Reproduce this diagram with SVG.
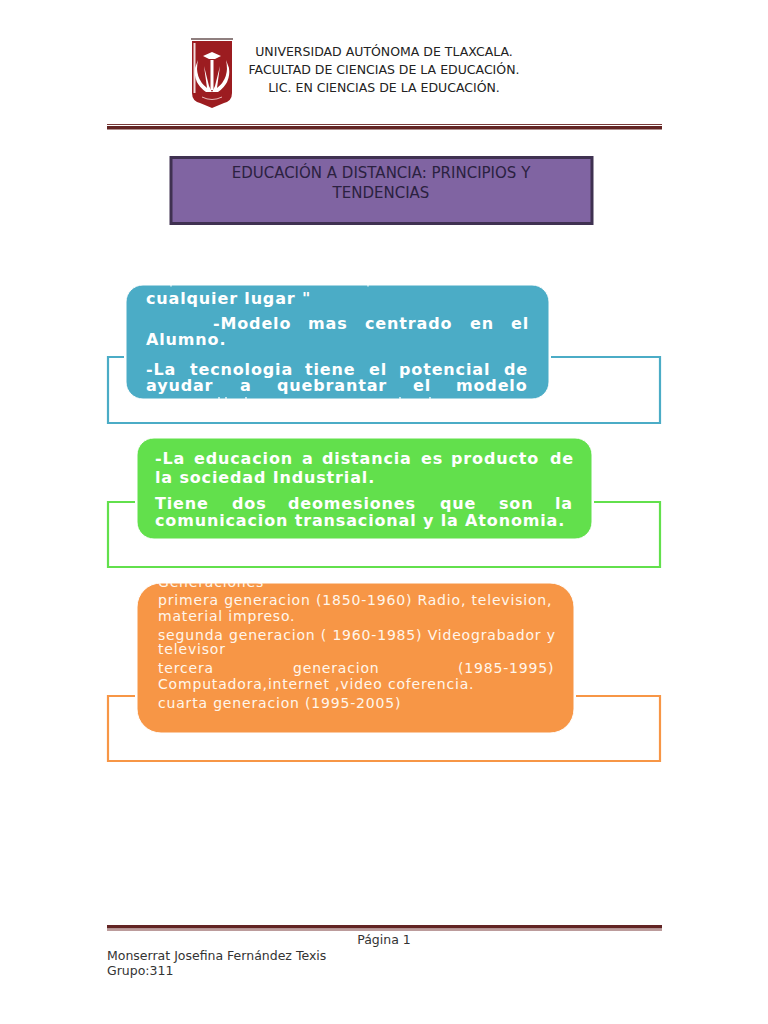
<svg xmlns="http://www.w3.org/2000/svg" width="768" height="1024" viewBox="0 0 768 1024">
<style>
text{font-family:"DejaVu Sans",Verdana,sans-serif}
.h{font-size:12.5px;fill:#222;text-anchor:middle}
.t{font-size:15px;fill:#2b2140;text-anchor:middle}
.b{font-size:16px;font-weight:700;fill:#fff;letter-spacing:.85px}
.o{font-size:14px;fill:#fff6ec;letter-spacing:.82px}
.f{font-size:12.5px;fill:#333}
.c{fill:none;stroke-width:2.2}
.n{stroke:#fff;stroke-width:1}
</style>
<defs>
<clipPath id="cb"><rect x="126" y="285" width="423" height="114" rx="17"/></clipPath>
<clipPath id="co"><rect x="137" y="583" width="437" height="150" rx="24"/></clipPath>
</defs>
<rect width="768" height="1024" fill="#fff"/>
<g id="shield">
<path d="M192 41h40v52q0 8-8 10l-12 5-12-5q-8-2-8-10z" fill="#9c1c20"/>
<rect x="191" y="38" width="42" height="2" fill="#8f7f7f"/>
<rect x="193.500" y="43" width="2" height="50" fill="#f2dcdc"/>
<path d="M198 60q-4 18 9 28l-3-22 5 20 3 6 3-6 5-20-3 22q13-10 9-28l3 8q2 15-11 24h-12q-13-9-11-24z" fill="#fff"/>
<path d="M203 56l9-4 9 4-6 3h-6z" fill="#fff"/>
<rect x="210.500" y="60" width="3" height="30" fill="#fff"/>
<path d="M202 97q10 5 20 0" fill="none" stroke="#e8b8b8"/>
</g>
<g id="header">
<text class="h" x="384" y="56">UNIVERSIDAD AUTÓNOMA DE TLAXCALA.</text>
<text class="h" x="384" y="74">FACULTAD DE CIENCIAS DE LA EDUCACIÓN.</text>
<text class="h" x="384" y="92">LIC. EN CIENCIAS DE LA EDUCACIÓN.</text>
</g>
<g id="rule-top"><rect x="107" y="124" width="555" height="1" fill="#7a3b3a"/><rect x="107" y="126" width="555" height="3.5" fill="#622423"/></g>
<g id="title">
<rect x="171" y="157.500" width="421" height="66" fill="#8064a2" stroke="#3f3151" stroke-width="3"/>
<text class="t" x="381" y="178">EDUCACIÓN A DISTANCIA: PRINCIPIOS Y</text>
<text class="t" x="381" y="198">TENDENCIAS</text>
</g>
<g id="connectors">
<path class="c" stroke="#4bacc6" d="M126 357H108V423H660V357H548"/>
<path class="c" stroke="#62e04c" d="M137 502H108V567H660V502H592"/>
<path class="c" stroke="#f79646" d="M137 696H108V761H660V696H574"/>
</g>
<g id="node-blue">
<rect x="124" y="283" width="427" height="118" rx="19" fill="#fff"/>
<rect class="n" x="126" y="285" width="423" height="114" rx="17" fill="#4bacc6"/>
<g clip-path="url(#cb)">
<text class="b" x="146" y="304">cualquier lugar "</text>
<text class="b" y="329"><tspan x="213">-Modelo</tspan><tspan x="308">mas</tspan><tspan x="365">centrado</tspan><tspan x="470">en</tspan><tspan x="511">el</tspan></text>
<text class="b" x="146" y="345">Alumno.</text>
<text class="b" y="375"><tspan x="146">-La</tspan><tspan x="190">tecnologia</tspan><tspan x="305">tiene</tspan><tspan x="369">el</tspan><tspan x="399">potencial</tspan><tspan x="504">de</tspan></text>
<text class="b" y="391"><tspan x="146">ayudar</tspan><tspan x="240">a</tspan><tspan x="277">quebrantar</tspan><tspan x="413">el</tspan><tspan x="456">modelo</tspan></text>
<path d="M171 285v1.500M368 285v1.500M219 397v2M226 397v2M246 397v2M400 397v2M430 397v2" stroke="#e8f4f8" stroke-width="1.500"/>
</g>
</g>
<g id="node-green">
<rect x="135" y="436" width="459" height="105" rx="19" fill="#fff"/>
<rect class="n" x="137" y="438" width="455" height="101" rx="17" fill="#62e04c"/>
<text class="b" y="464"><tspan x="155">-La</tspan><tspan x="194">educacion</tspan><tspan x="302">a</tspan><tspan x="322">distancia</tspan><tspan x="421">es</tspan><tspan x="451">producto</tspan><tspan x="550">de</tspan></text>
<text class="b" x="155" y="483">la sociedad Industrial.</text>
<text class="b" y="509"><tspan x="155">Tiene</tspan><tspan x="232">dos</tspan><tspan x="288">deomesiones</tspan><tspan x="440">que</tspan><tspan x="499">son</tspan><tspan x="555">la</tspan></text>
<text class="b" x="155" y="526">comunicacion transacional y la Atonomia.</text>
</g>
<g id="node-orange">
<rect x="135" y="581" width="441" height="154" rx="26" fill="#fff"/>
<rect class="n" x="137" y="583" width="437" height="150" rx="24" fill="#f79646"/>
<g clip-path="url(#co)">
<text class="o" x="158" y="587">Generaciones</text>
<text class="o" x="158" y="605">primera generacion (1850-1960) Radio, television,</text>
<text class="o" x="158" y="621">material impreso.</text>
<text class="o" x="158" y="640">segunda generacion ( 1960-1985) Videograbador y</text>
<text class="o" x="158" y="654">televisor</text>
<text class="o" y="673"><tspan x="158">tercera</tspan><tspan x="293">generacion</tspan><tspan x="458">(1985-1995)</tspan></text>
<text class="o" x="158" y="689">Computadora,internet ,video coferencia.</text>
<text class="o" x="158" y="708">cuarta generacion (1995-2005)</text>
</g>
</g>
<g id="rule-bottom"><rect x="107" y="925" width="555" height="3.500" fill="#622423"/><rect x="107" y="929.500" width="555" height="1" fill="#7a3b3a"/></g>
<g id="footer">
<text class="f" x="384" y="944" text-anchor="middle">Página 1</text>
<text class="f" x="107" y="960">Monserrat Josefina Fernández Texis</text>
<text class="f" x="107" y="975">Grupo:311</text>
</g>
</svg>
